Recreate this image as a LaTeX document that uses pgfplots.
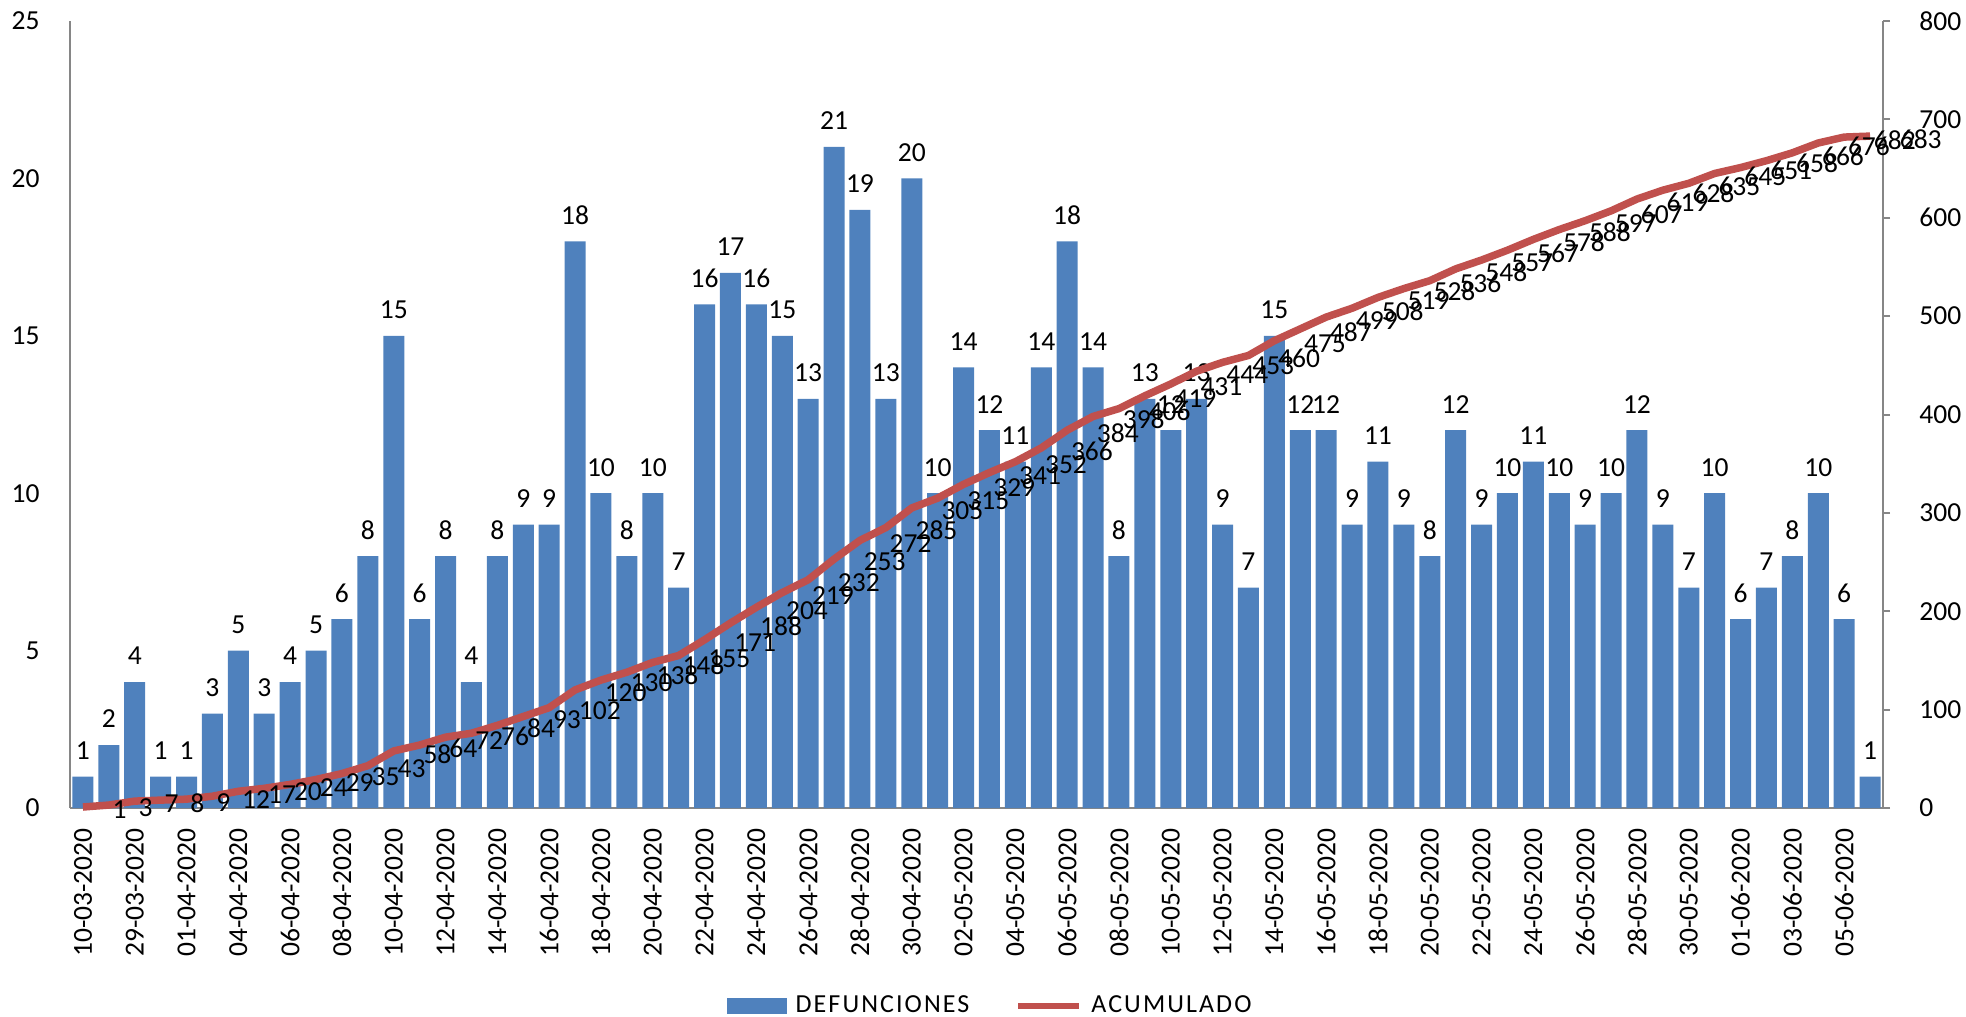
\documentclass[border=0pt]{standalone}
\usepackage{fontspec}
\setmainfont{Carlito}
\usepackage{pgfplots}
\usepackage{pgfplotstable}
\pgfplotsset{compat=1.18}
\pgfplotsset{/pgf/number format/assume math mode=true}

\definecolor{barblue}{RGB}{79,129,189}
\definecolor{linered}{RGB}{192,80,77}
\definecolor{axisgray}{RGB}{134,134,134}

% x = day index, d = defunciones, c = acumulado
\pgfplotstableread{
x d c
0 1 1
1 2 3
2 4 7
3 1 8
4 1 9
5 3 12
6 5 17
7 3 20
8 4 24
9 5 29
10 6 35
11 8 43
12 15 58
13 6 64
14 8 72
15 4 76
16 8 84
17 9 93
18 9 102
19 18 120
20 10 130
21 8 138
22 10 148
23 7 155
24 16 171
25 17 188
26 16 204
27 15 219
28 13 232
29 21 253
30 19 272
31 13 285
32 20 305
33 10 315
34 14 329
35 12 341
36 11 352
37 14 366
38 18 384
39 14 398
40 8 406
41 13 419
42 12 431
43 13 444
44 9 453
45 7 460
46 15 475
47 12 487
48 12 499
49 9 508
50 11 519
51 9 528
52 8 536
53 12 548
54 9 557
55 10 567
56 11 578
57 10 588
58 9 597
59 10 607
60 12 619
61 9 628
62 7 635
63 10 645
64 6 651
65 7 658
66 8 666
67 10 676
68 6 682
69 1 683
}\datos

\newcommand{\lab}{\fontsize{13.75bp}{16bp}\selectfont}
\newcommand{\leg}{\fontsize{13bp}{15bp}\selectfont\addfontfeature{LetterSpace=8}}

\begin{document}
\begin{tikzpicture}
\pgfplotsset{
  base/.style={
    width=906.5bp, height=393.5bp, scale only axis,
    xmin=-0.5, xmax=69.5, clip=false,
    axis line style={axisgray, line width=1bp, -},
    tick label style={font=\lab, black},
  }
}
\begin{axis}[base, ybar, bar width=10.5bp,
  ymin=0, ymax=25, ytick={0,5,...,25},
  axis x line*=bottom, axis y line*=left,
  major tick length=0pt,
  yticklabel style={anchor=east, inner sep=0pt, xshift=-15bp},
  xtick={0,2,...,68},
  xticklabels={10-03-2020,29-03-2020,01-04-2020,04-04-2020,06-04-2020,08-04-2020,
    10-04-2020,12-04-2020,14-04-2020,16-04-2020,18-04-2020,20-04-2020,22-04-2020,
    24-04-2020,26-04-2020,28-04-2020,30-04-2020,02-05-2020,04-05-2020,06-05-2020,
    08-05-2020,10-05-2020,12-05-2020,14-05-2020,16-05-2020,18-05-2020,20-05-2020,
    22-05-2020,24-05-2020,26-05-2020,28-05-2020,30-05-2020,01-06-2020,03-06-2020,
    05-06-2020},
  xticklabel style={rotate=90, anchor=east, inner sep=0pt},
  xticklabel shift=10bp,
  nodes near coords,
  nodes near coords style={font=\lab, black, anchor=center, inner sep=0pt, yshift=13bp},
]
\addplot[fill=barblue, draw=none] table[x=x, y=d] {\datos};
\end{axis}

\begin{axis}[base,
  ymin=0, ymax=800, ytick={0,100,...,800},
  axis x line=none, axis y line*=right,
  tick align=outside, major tick length=3.5bp,
  ytick style={axisgray, line width=1bp},
  yticklabel style={anchor=west, inner sep=0pt, xshift=14.5bp},
  legend style={at={(0.507,-0.2516)}, anchor=center, draw=none, fill=none,
    legend columns=2, font=\leg, nodes={inner sep=0pt},
    /tikz/every odd column/.append style={column sep=4.5bp},
    /tikz/every even column/.append style={column sep=23bp}},
]
\addlegendimage{legend image code/.code={\fill[barblue] (0bp,-3.75bp) rectangle (29.5bp,3.75bp);}}
\addlegendentry{DEFUNCIONES}
\addplot[linered, line width=3.75bp, mark=none,
  nodes near coords,
  nodes near coords style={font=\lab, black, anchor=west, inner sep=0pt, xshift=13bp, yshift=-1.5bp},
  legend image code/.code={\draw[linered, line width=3bp] (0bp,0bp) -- (30.5bp,0bp);}]
  table[x=x, y=c] {\datos};
\addlegendentry{ACUMULADO}
\end{axis}
\pgfresetboundingbox
\path (-35bp,-104.5bp) rectangle (948bp,404bp);
\end{tikzpicture}
\end{document}
